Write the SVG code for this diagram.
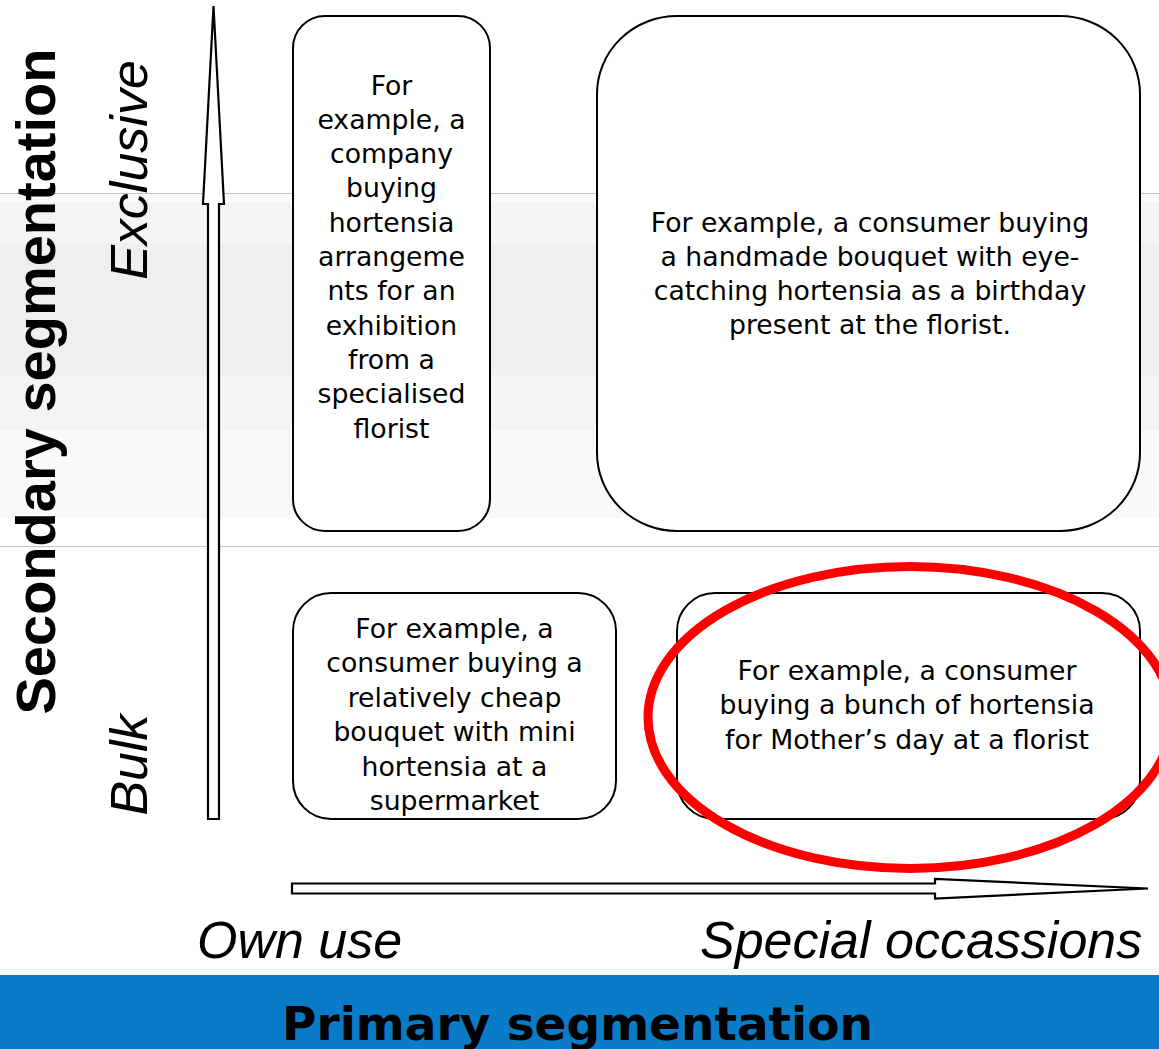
<svg xmlns="http://www.w3.org/2000/svg" width="1159" height="1049" viewBox="0 0 1159 1049">
  <style>
    .box { fill: #ffffff; stroke: #000000; stroke-width: 2; }
    .arrow { fill: #ffffff; stroke: #000000; stroke-width: 2.2; stroke-linejoin: miter; }
    .rule { stroke: #c4c4c4; stroke-width: 1; }
    .body { font-family: "DejaVu Sans", Verdana, sans-serif; font-size: 26.7px; fill: #000000; text-anchor: middle; }
    .axis { font-family: "Liberation Sans", Arial, sans-serif; font-style: italic; font-size: 52px; fill: #000000; }
    .title-v { font-family: "Liberation Sans", Arial, sans-serif; font-weight: bold; font-size: 56px; fill: #000000; text-anchor: middle; }
    .title-h { font-family: "DejaVu Sans", Verdana, sans-serif; font-weight: bold; font-size: 47px; fill: #000000; text-anchor: middle; }
    .highlight { fill: none; stroke: #ff0000; stroke-width: 9; }
  </style>

  <!-- background -->
  <rect x="0" y="0" width="1159" height="1049" fill="#ffffff"/>

  <!-- shaded horizontal band -->
  <g id="band">
    <rect x="0" y="193" width="1159" height="9" fill="#fafafa"/>
    <rect x="0" y="202" width="1159" height="41" fill="#f4f4f4"/>
    <rect x="0" y="243" width="1159" height="132" fill="#efefef"/>
    <rect x="0" y="375" width="1159" height="55" fill="#f4f4f4"/>
    <rect x="0" y="430" width="1159" height="88" fill="#f9f9f9"/>
    <line class="rule" x1="0" y1="193.5" x2="1159" y2="193.5"/>
    <line class="rule" x1="0" y1="546.5" x2="1159" y2="546.5"/>
  </g>

  <!-- axis arrows -->
  <g id="connectors">
    <path id="axis-secondary" class="arrow" d="M208 819 L208 204 L203 204 L213.5 6 L224 204 L219 204 L219 819 Z"/>
    <path id="axis-primary" class="arrow" d="M292 883.5 L935 883.5 L935 879 L1148 888.5 L935 898.5 L935 893.5 L292 893.5 Z"/>
  </g>

  <!-- quadrant nodes -->
  <g id="node-company-exhibition">
    <rect class="box" x="293" y="16" width="197" height="515" rx="32" ry="32"/>
    <text class="body" x="391.5" y="94.5">For</text>
    <text class="body" x="391.5" y="128.8">example, a</text>
    <text class="body" x="391.5" y="163.1">company</text>
    <text class="body" x="391.5" y="197.4">buying</text>
    <text class="body" x="391.5" y="231.7">hortensia</text>
    <text class="body" x="391.5" y="266">arrangeme</text>
    <text class="body" x="391.5" y="300.3">nts for an</text>
    <text class="body" x="391.5" y="334.6">exhibition</text>
    <text class="body" x="391.5" y="368.9">from a</text>
    <text class="body" x="391.5" y="403.2">specialised</text>
    <text class="body" x="391.5" y="437.5">florist</text>
  </g>

  <g id="node-birthday-bouquet">
    <rect class="box" x="597" y="16" width="543" height="515" rx="80" ry="78"/>
    <text class="body" x="870" y="231.5">For example, a consumer buying</text>
    <text class="body" x="870" y="265.8">a handmade bouquet with eye-</text>
    <text class="body" x="870" y="300.1">catching hortensia as a birthday</text>
    <text class="body" x="870" y="334.4">present at the florist.</text>
  </g>

  <g id="node-supermarket">
    <rect class="box" x="293" y="593" width="323" height="226" rx="38" ry="38"/>
    <text class="body" x="454.5" y="638">For example, a</text>
    <text class="body" x="454.5" y="672.4">consumer buying a</text>
    <text class="body" x="454.5" y="706.8">relatively cheap</text>
    <text class="body" x="454.5" y="741.2">bouquet with mini</text>
    <text class="body" x="454.5" y="775.6">hortensia at a</text>
    <text class="body" x="454.5" y="810">supermarket</text>
  </g>

  <g id="node-mothers-day">
    <rect class="box" x="677" y="593" width="463" height="226" rx="38" ry="38"/>
    <text class="body" x="907" y="679.5">For example, a consumer</text>
    <text class="body" x="907" y="714">buying a bunch of hortensia</text>
    <text class="body" x="907" y="748.5">for Mother’s day at a florist</text>
  </g>

  <!-- emphasis ring -->
  <g id="highlight">
    <ellipse class="highlight" cx="910" cy="717.5" rx="262" ry="151"/>
  </g>

  <!-- axis labels -->
  <g id="labels">
    <text class="title-v" transform="translate(55 381.5) rotate(-90)">Secondary segmentation</text>
    <text class="axis" text-anchor="middle" transform="translate(147 170) rotate(-90)">Exclusive</text>
    <text class="axis" text-anchor="middle" transform="translate(147 765) rotate(-90)">Bulk</text>
    <text class="axis" x="197" y="958">Own use</text>
    <text class="axis" x="700" y="958">Special occassions</text>
  </g>

  <!-- primary segmentation bar -->
  <g id="primary-bar">
    <rect x="0" y="975" width="1159" height="74" fill="#0a7bc6"/>
    <text class="title-h" x="577.5" y="1040">Primary segmentation</text>
  </g>
</svg>
